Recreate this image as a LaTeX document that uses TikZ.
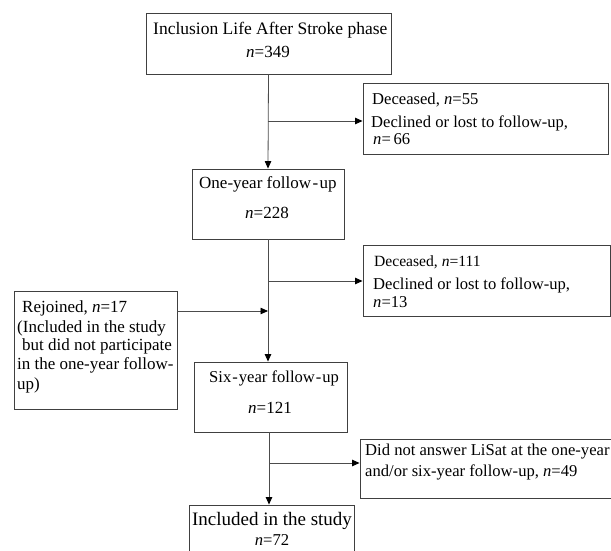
\documentclass[tikz,border=0pt]{standalone}
\usepackage{fontspec}
\setmainfont{Liberation Serif}
\usetikzlibrary{arrows.meta}
\newcommand\myfs[1]{\fontsize{#1}{#1}\selectfont}
\begin{document}
\begin{tikzpicture}[x=1pt,y=-1pt,
  box/.style={draw=black!75, line width=0.9pt, inner sep=0pt},
  arr/.style={draw=black!70, line width=0.8pt, -{Triangle[length=7.5pt,width=6.5pt,black]}},
  tl/.style={inner sep=0pt, anchor=west},
  tc/.style={inner sep=0pt, anchor=center},
  tA/.style={font=\myfs{17}, text height=12.2pt, text depth=1.4pt},
  tE/.style={font=\myfs{17.5}, text height=12.5pt, text depth=1.4pt},
  tB/.style={font=\myfs{16.6}, text height=12pt, text depth=1.3pt},
  tC/.style={font=\myfs{15.6}, text height=11.2pt, text depth=1.2pt},
  tD/.style={font=\myfs{19}, text height=13.7pt, text depth=1.5pt}]
\useasboundingbox (0,0) rectangle (611,551);
% boxes
\node[box, minimum width=245pt, minimum height=61pt] (b1) at (268.5,43.5) {};
\node[box, minimum width=245pt, minimum height=71pt] (d1) at (485.5,118.5) {};
\node[box, minimum width=152pt, minimum height=70pt] (b2) at (268,204) {};
\node[box, minimum width=247pt, minimum height=71pt] (d2) at (486.5,280.5) {};
\node[box, minimum width=163pt, minimum height=118pt] (rj) at (95.5,350) {};
\node[box, minimum width=153pt, minimum height=70pt] (b3) at (271,397) {};
\node[box, minimum width=260pt, minimum height=59pt] (d3) at (490,468.5) {};
\node[box, minimum width=165pt, minimum height=60pt] (incl) at (271.5,535) {};
% texts
\begin{scope}
\clip (b1.north west) rectangle (b1.south east);
\node[tl,tE] (t1a) at (153,29) {Inclusion Life After Stroke phase I};
\end{scope}
\node[tc,tA] (t1b) at (268,52) {\textit{n}=349};
\node[tl,tB] (td1a) at (372,99) {Deceased, \textit{n}=55};
\node[tl,tB] (td1b) at (371,122) {Declined or lost to follow-up,};
\node[tl,tB] (td1c) at (373,139) {\textit{n}=\,66};
\node[tl,tA] (t2a) at (199,183) {One-year follow\kern1.5pt-\kern1.5pt up};
\node[tc,tA] (t2b) at (267,213) {\textit{n}=228};
\node[tl,tC] (td2a) at (374,261) {Deceased, \textit{n}=111};
\node[tl,tB] (td2b) at (373,284) {Declined or lost to follow-up,};
\node[tl,tB] (td2c) at (373,302) {\textit{n}=13};
\node[tl,tA] (tr1) at (22,307) {Rejoined, \textit{n}=17};
\node[tl,tA] (tr2) at (17,327) {(Included in the study};
\node[tl,tA] (tr3) at (22,345) {but did not participate};
\node[tl,tA] (tr4) at (17,364) {in the one-year follow-};
\node[tl,tA] (tr5) at (17,384) {up)};
\node[tl,tB] (t3a) at (209,377) {Six\kern1pt-\kern1pt year follow\kern1pt-\kern1pt up};
\node[tc,tA] (t3b) at (270,408) {\textit{n}=121};
\node[tl,tB] (td3a) at (365,450) {Did not answer LiSat at the one-year};
\node[tl,tB] (td3b) at (365,471) {and/or six-year follow-up, \textit{n}=49};
\node[tc,tD] (t4a) at (272,519) {Included in the study};
\node[tc,tB] (t4b) at (272,540) {\textit{n}=72};
% connectors
\coordinate (c1) at (268,121);
\coordinate (c2) at (268,281);
\coordinate (c3) at (268,311);
\coordinate (c5) at (269,463);
\draw[arr] (b1.south) -- (b2.north);
\draw[arr] (c1) -- (c1 -| d1.west);
\draw[arr] (b2.south) -- (b2.south |- b3.north);
\draw[arr] (c2) -- (c2 -| d2.west);
\draw[arr] (c3 -| rj.east) -- (c3);
\draw[arr] (b3.south -| c5) -- (c5 |- incl.north);
\draw[arr] (c5) -- (c5 -| d3.west);
\end{tikzpicture}
\end{document}
